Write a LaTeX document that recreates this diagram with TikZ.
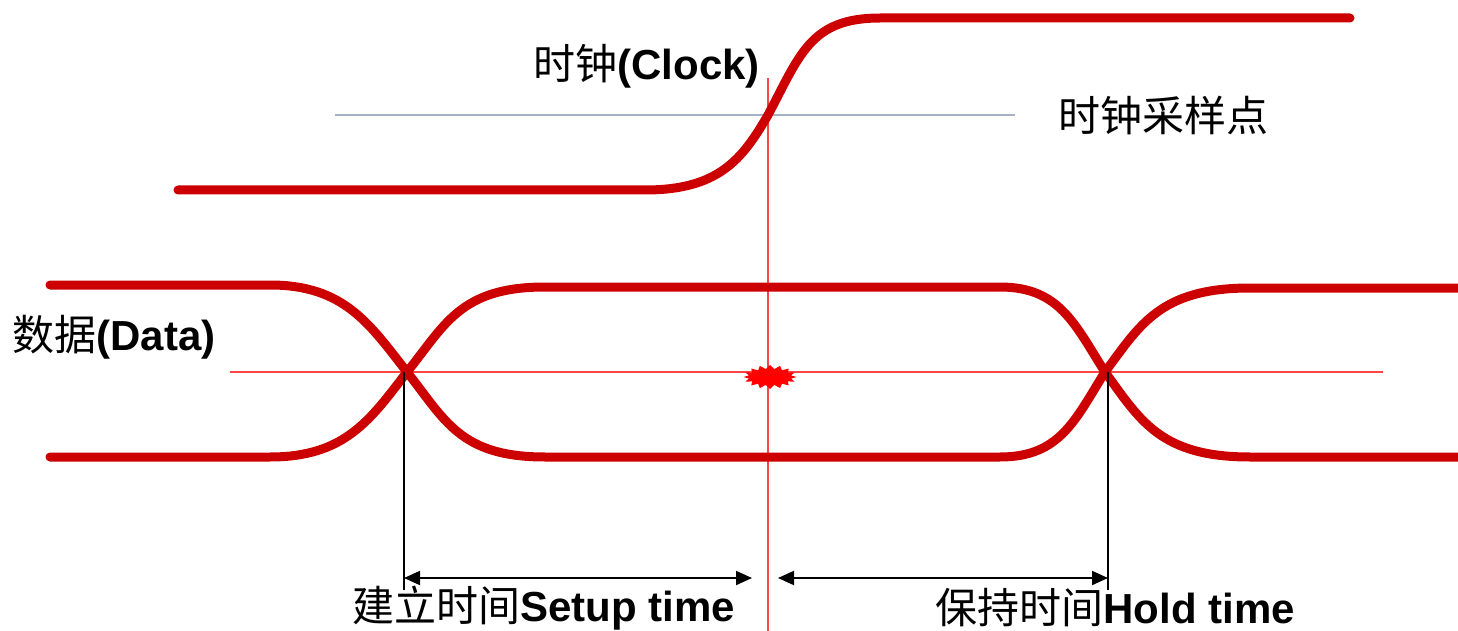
\documentclass[tikz,border=0pt]{standalone}
\usepackage{fontspec}
\setmainfont{Liberation Sans}
\newfontfamily\cjk{Noto Sans CJK SC}
\usetikzlibrary{arrows.meta}
\definecolor{sig}{RGB}{204,0,0}
\definecolor{guide}{RGB}{255,70,70}
\definecolor{grayblue}{RGB}{165,178,200}
\tikzset{
  wave/.style={draw=sig, line width=4.5pt, line cap=round, line join=round},
  thinred/.style={draw=guide, line width=1pt},
  blackline/.style={draw=black, line width=1pt},
  dim/.style={draw=black, line width=1pt, {Triangle[length=8pt,width=7pt]}-{Triangle[length=8pt,width=7pt]}},
  lbl/.style={inner sep=0pt, font=\fontsize{21}{25}\selectfont},
}
\begin{document}
\begin{tikzpicture}[x=0.5pt,y=-0.5pt]
\useasboundingbox (0,0) rectangle (1458,631);
% guide lines
\draw[draw=grayblue, line width=1.2pt] (335,115) -- (1015,115);
\draw[thinred] (230,372) -- (1383,372);
\draw[thinred] (768,78) -- (768,631);
% clock
\coordinate (cs) at (768,115);
\draw[wave] (178,190) -- (645,190) .. controls (718,190) and (742,160) .. (cs)
  .. controls (800,55) and (810,18) .. (880,18) -- (1350,18);
% data crossings
\coordinate (x1) at (407,372);
\coordinate (x2) at (1105,372);
\draw[wave] (50,285) -- (270,285) .. controls (345,285) and (370,325) .. (x1)
  .. controls (445,420) and (460,457) .. (545,457) -- (1000,457)
  .. controls (1060,457) and (1075,420) .. (x2)
  .. controls (1140,325) and (1160,288) .. (1250,288) -- (1458,288);
\draw[wave] (50,457) -- (270,457) .. controls (345,457) and (370,420) .. (x1)
  .. controls (445,325) and (460,287) .. (545,287) -- (1000,287)
  .. controls (1060,287) and (1075,325) .. (x2)
  .. controls (1140,420) and (1160,457) .. (1250,457) -- (1458,457);
% sampling star
\fill[red] plot[samples=33, domain=0:360, variable=\t]
  ({770+(24+2.5*cos(16*\t))*cos(\t)}, {377+(10+2*cos(16*\t))*sin(\t)}) -- cycle;
% timing markers
\coordinate (s0) at (404,372);
\coordinate (s1) at (404,590);
\coordinate (h0) at (1108,372);
\coordinate (h1) at (1108,590);
\draw[blackline] (s0) -- (s1);
\draw[blackline] (h0) -- (h1);
\coordinate (a1) at (404,578);
\coordinate (a2) at (752,578);
\coordinate (b1) at (778,578);
\coordinate (b2) at (1108,578);
\draw[dim] (a1) -- (a2);
\draw[dim] (b1) -- (b2);
% labels
\node[lbl, anchor=west] (clk) at (533,66) {{\cjk 时钟}\textbf{(Clock)}};
\node[lbl, anchor=west] (samp) at (1058,115) {\cjk 时钟采样点};
\node[lbl, anchor=west] (dat) at (12,337) {{\cjk 数据}\textbf{(Data)}};
\node[lbl, anchor=west] (su) at (352,608) {{\cjk 建立时间}\textbf{Setup time}};
\node[lbl, anchor=west] (ho) at (935,608) {{\cjk 保持时间}\textbf{Hold time}};
\end{tikzpicture}
\end{document}
